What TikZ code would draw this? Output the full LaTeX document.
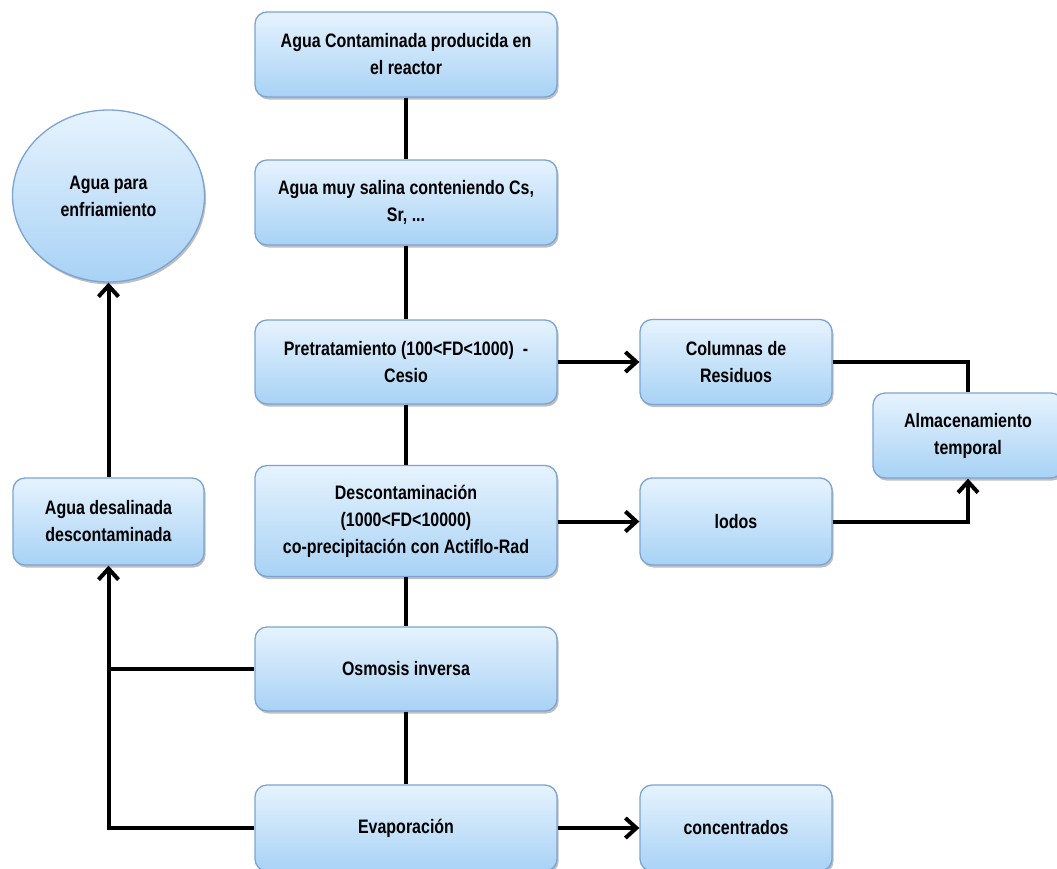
\documentclass[tikz,border=0pt]{standalone}
\usepackage{fontspec}
\setmainfont{Liberation Sans}[FakeStretch=0.82]
\usetikzlibrary{arrows.meta,shadows,shapes.geometric}
\definecolor{boxtop}{HTML}{E6F3FE}
\definecolor{boxbot}{HTML}{A8D2F5}
\definecolor{boxline}{HTML}{7CA3D4}
\tikzset{
  stepbox/.style={rectangle, rounded corners=12pt, draw=boxline, line width=1.3pt,
    top color=boxtop, bottom color=boxbot, align=center,
    font=\fontsize{19.5}{27}\selectfont\bfseries, inner sep=2pt,
    drop shadow={shadow xshift=1.5pt, shadow yshift=-2.5pt, opacity=0.25, fill=black}},
  ovalbox/.style={ellipse, draw=boxline, line width=1.3pt,
    top color=boxtop, bottom color=boxbot, align=center,
    font=\fontsize{19.5}{27}\selectfont\bfseries, inner sep=0pt,
    drop shadow={shadow xshift=1.5pt, shadow yshift=-2.5pt, opacity=0.25, fill=black}},
  link/.style={line width=4pt, black},
  arrowlink/.style={link, -{Straight Barb[length=11pt,width=20pt,line width=4pt]}}
}
\begin{document}
\begin{tikzpicture}[x=1pt,y=-1pt]
\useasboundingbox (0,0) rectangle (1057,868);
\fill[white] (0,0) rectangle (1057,868);
\begin{scope}
\clip (0,0) rectangle (1057,868);
\node[stepbox, minimum width=302pt, minimum height=85pt] (b1) at (406,54.5) {Agua Contaminada producida en\\el reactor};
\node[stepbox, minimum width=302pt, minimum height=85pt] (b2) at (406,202.5) {Agua muy salina conteniendo Cs,\\Sr, ...};
\node[stepbox, minimum width=302pt, minimum height=84pt] (b3) at (406,362) {Pretratamiento (100<FD<1000) \ -\\Cesio};
\node[stepbox, minimum width=302pt, minimum height=111pt] (b4) at (406,521) {Descontaminación\\(1000<FD<10000)\\co-precipitación con Actiflo-Rad};
\node[stepbox, minimum width=302pt, minimum height=84pt] (b5) at (406,669) {Osmosis inversa};
\node[stepbox, minimum width=302pt, minimum height=86pt] (b6) at (406,828) {Evaporación};
\node[stepbox, minimum width=192pt, minimum height=85pt] (col) at (736,362) {Columnas de\\Residuos};
\node[stepbox, minimum width=192pt, minimum height=87pt] (lod) at (736,521.5) {lodos};
\node[stepbox, minimum width=192pt, minimum height=86pt] (conc) at (736,828) {concentrados};
\node[stepbox, minimum width=190pt, minimum height=85pt] (alm) at (968,435.5) {Almacenamiento\\temporal};
\node[stepbox, minimum width=191pt, minimum height=87pt] (des) at (108.5,521.5) {Agua desalinada\\descontaminada};
\node[ovalbox, minimum width=192pt, minimum height=172pt] (ell) at (108.5,196) {Agua para\\enfriamiento};

\coordinate (jl) at (108.5,669);
\coordinate (jb) at (108.5,828);
\coordinate (ja) at (968,362);
\coordinate (jc) at (968,521.5);

\draw[link] (b1) -- (b2);
\draw[link] (b2) -- (b3);
\draw[link] (b3) -- (b4);
\draw[link] (b4) -- (b5);
\draw[link] (b5) -- (b6);
\draw[arrowlink] (b3) -- (col);
\draw[arrowlink] (b4.east |- lod) -- (lod);
\draw[arrowlink] (b6) -- (conc);
\draw[link] (col) -- (ja) -- (alm);
\draw[arrowlink] (lod) -- (jc) -- (alm);
\draw[link] (b5) -- (jl);
\draw[arrowlink] (b6) -- (jb) -- (des);
\draw[arrowlink] (des) -- (ell);
\end{scope}
\end{tikzpicture}
\end{document}
